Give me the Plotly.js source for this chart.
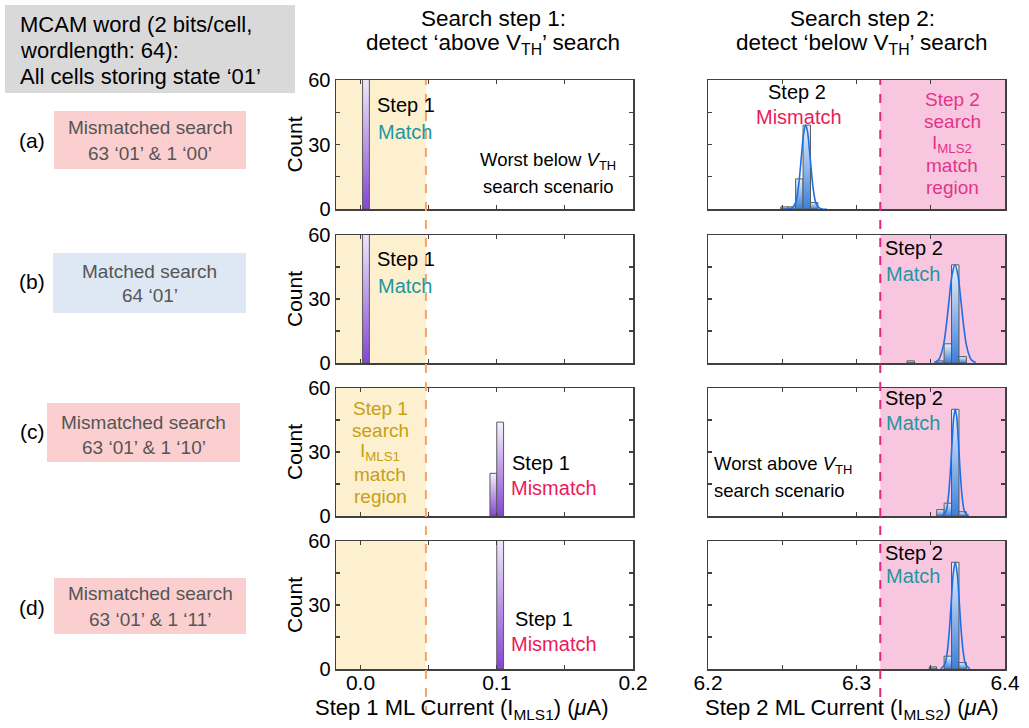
<!DOCTYPE html>
<html>
<head>
<meta charset="utf-8">
<script src="https://cdn.plot.ly/plotly-3.0.1.min.js"></script>
<style>html,body{margin:0;padding:0;background:#fff;}#chart{width:1029px;height:728px;}</style>
</head>
<body>
<div id="chart"></div>
<script>
// ---------------- DATA ----------------
const rowLabels = ['(a)', '(b)', '(c)', '(d)'];
const searchLine1 = ['Mismatched search', 'Matched search', 'Mismatched search', 'Mismatched search'];
const searchLine2 = ['63 ‘01’ & 1 ‘00’', '64 ‘01’', '63 ‘01’ & 1 ‘10’', '63 ‘01’ & 1 ‘11’'];

const step1BinWidth = 0.005;
const step2BinWidth = 0.005;
const step1Threshold = 0.048;
const step2Threshold = 6.316;

// Step 1 histograms (bin centers, counts)
const s1_a_x = [0.004];           const s1_a_n = [64];
const s1_b_x = [0.004];           const s1_b_n = [64];
const s1_c_x = [0.0975, 0.1025];  const s1_c_n = [20, 44];
const s1_d_x = [0.1025];          const s1_d_n = [64];

// Step 2 histograms (bin centers, counts)
const s2_a_x = [6.2515, 6.2565, 6.2615, 6.2665, 6.2715]; const s2_a_n = [1, 1, 14, 39, 3];
const s2_b_x = [6.3365, 6.3565, 6.3615, 6.3665, 6.3715]; const s2_b_n = [1, 1, 9, 46, 3];
const s2_c_x = [6.3565, 6.3615, 6.3665, 6.3715];         const s2_c_n = [3, 6, 50, 2];
const s2_d_x = [6.3515, 6.3615, 6.3665, 6.3715];         const s2_d_n = [1, 6, 50, 3];

// Step 2 fitted curves
const fit_a_x = [6.252, 6.256, 6.259, 6.261, 6.263, 6.2645, 6.2658, 6.267, 6.2685, 6.271, 6.273, 6.276, 6.280];
const fit_a_y = [0, 0.2, 3, 10.8, 25.2, 35.5, 39, 36, 26, 8.7, 2.2, 0.1, 0];
const fit_b_x = [6.3523, 6.3553, 6.3583, 6.3603, 6.3623, 6.3643, 6.3663, 6.3683, 6.3703, 6.3723, 6.3743, 6.3773, 6.3803];
const fit_b_y = [0.2, 1.5, 7.5, 16.6, 29.2, 41.1, 46, 41.1, 29.2, 16.6, 7.5, 1.5, 0.2];
const fit_c_x = [6.3575, 6.3600, 6.3615, 6.3630, 6.3645, 6.3655, 6.3665, 6.3675, 6.3685, 6.3700, 6.3715, 6.3730, 6.3755];
const fit_c_y = [0.1, 1.7, 6.8, 18.8, 36.3, 46.2, 50, 46.2, 36.3, 18.8, 6.8, 1.7, 0.1];
const fit_d_x = [6.3567, 6.3595, 6.3609, 6.3623, 6.3637, 6.3651, 6.3665, 6.3679, 6.3693, 6.3707, 6.3721, 6.3735, 6.3763];
const fit_d_y = [0.1, 2.2, 6.8, 16.2, 30.3, 44.1, 50, 44.1, 30.3, 16.2, 6.8, 2.2, 0.1];

// tick spacing (labels / minor marks)
const step1TickStep = 0.1, step1MinorStep = 0.05;
const step2TickStep = 0.1, step2MinorStep = 0.05;
const countTickStep = 30, countMinorStep = 15;

// ---------------- STYLE / LAYOUT ----------------
const W = 1029, H = 728;
const F = 'Liberation Sans, Arial, Helvetica, sans-serif';
const px = v => v / W;
const py = v => 1 - v / H;

const colX = [[336, 633], [708, 1005]];
const rowY = [[80, 209], [235, 363], [388, 516], [541, 669]];
const step1Range = [-0.018, 0.2];
const step2Range = [6.2, 6.4];

const TEAL = '#23969f', RED = '#ec1a5b', GOLD = '#c89f14', PINK = '#e3348a';

const step1Data = [[s1_a_x, s1_a_n], [s1_b_x, s1_b_n], [s1_c_x, s1_c_n], [s1_d_x, s1_d_n]];
const step2Data = [[s2_a_x, s2_a_n], [s2_b_x, s2_b_n], [s2_c_x, s2_c_n], [s2_d_x, s2_d_n]];
const fitData = [[fit_a_x, fit_a_y], [fit_b_x, fit_b_y], [fit_c_x, fit_c_y], [fit_d_x, fit_d_y]];

function axId(r, c) { const n = r * 2 + c + 1; return n === 1 ? '' : String(n); }

function barTraces(centers, counts, width, xa, ya, dark, light) {
  return centers.map((c, i) => ({
    type: 'scatter', mode: 'lines', xaxis: xa, yaxis: ya,
    x: [c - width / 2, c - width / 2, c + width / 2, c + width / 2, c - width / 2],
    y: [0, counts[i], counts[i], 0, 0],
    fill: 'toself',
    fillcolor: dark,
    fillgradient: { type: 'vertical', colorscale: [[0, dark], [1, light]] },
    line: { color: '#5a5a5a', width: 1 },
    showlegend: false, hoverinfo: 'skip'
  }));
}

const traces = [];
const layout = {
  width: W, height: H,
  margin: { l: 0, r: 0, t: 0, b: 0 },
  paper_bgcolor: '#ffffff', plot_bgcolor: '#ffffff',
  showlegend: false, hovermode: false,
  font: { family: F, size: 20, color: '#000' },
  shapes: [], annotations: []
};

for (let r = 0; r < 4; r++) {
  for (let c = 0; c < 2; c++) {
    const id = axId(r, c);
    const xa = 'x' + id, ya = 'y' + id;
    const common = {
      showline: true, mirror: 'allticks', linecolor: '#404040', linewidth: 1.5,
      ticks: 'inside', ticklen: 4, tickwidth: 1.2, tickcolor: '#404040',
      showgrid: false, zeroline: false, fixedrange: true
    };
    layout['xaxis' + id] = Object.assign({}, common, {
      domain: [px(colX[c][0]), px(colX[c][1])],
      range: c === 0 ? step1Range : step2Range,
      anchor: ya,
      tickmode: 'linear',
      tick0: c === 0 ? 0 : 6.2,
      dtick: c === 0 ? step1TickStep : step2TickStep,
      tickformat: '.1f',
      minor: { dtick: c === 0 ? step1MinorStep : step2MinorStep, tick0: c === 0 ? 0 : 6.2,
        ticks: 'inside', ticklen: 4, tickwidth: 1.2, tickcolor: '#404040', showgrid: false },
      showticklabels: r === 3,
      ticklabelstandoff: -6,
      tickfont: { size: 21, family: F, color: '#000' }
    });
    layout['yaxis' + id] = Object.assign({}, common, {
      domain: [py(rowY[r][1]), py(rowY[r][0])],
      range: [0, 60],
      anchor: xa,
      tickmode: 'linear', tick0: 0, dtick: countTickStep,
      minor: { dtick: countMinorStep, tick0: 0, ticks: 'inside', ticklen: 4, tickwidth: 1.2, tickcolor: '#404040', showgrid: false },
      showticklabels: c === 0,
      tickfont: { size: 20, family: F, color: '#000' }
    });
    // shaded regions
    if (c === 0) {
      layout.shapes.push({ type: 'rect', xref: xa, yref: ya, x0: -0.05, x1: step1Threshold, y0: 0, y1: 60,
        fillcolor: '#fdf0cf', line: { width: 0 }, layer: 'below' });
      const d = step1Data[r];
      traces.push(...barTraces(d[0], d[1], step1BinWidth, xa, ya, '#8446d2', '#f6f2fb'));
    } else {
      layout.shapes.push({ type: 'rect', xref: xa, yref: ya, x0: step2Threshold, x1: 6.45, y0: 0, y1: 60,
        fillcolor: '#f8c6df', line: { width: 0 }, layer: 'below' });
      const d = step2Data[r];
      traces.push(...barTraces(d[0], d[1], step2BinWidth, xa, ya, '#3a80dc', '#eaf1fb'));
      const f = fitData[r];
      traces.push({ type: 'scatter', mode: 'lines', xaxis: xa, yaxis: ya, x: f[0], y: f[1],
        line: { color: '#1f6fe3', width: 1.6, shape: 'spline', smoothing: 1 }, showlegend: false, hoverinfo: 'skip' });
    }
  }
}

// threshold dashed lines
layout.shapes.push({ type: 'line', xref: 'x', yref: 'paper', x0: step1Threshold, x1: step1Threshold,
  y0: py(715), y1: py(80), line: { color: '#f4a46c', width: 2, dash: 'dash' }, layer: 'above' });
layout.shapes.push({ type: 'line', xref: 'x2', yref: 'paper', x0: step2Threshold, x1: step2Threshold,
  y0: py(715), y1: py(80), line: { color: '#e0287e', width: 2, dash: 'dash' }, layer: 'above' });

// left boxes
function paperRect(x0, y0, x1, y1, color) {
  layout.shapes.push({ type: 'rect', xref: 'paper', yref: 'paper', x0: px(x0), x1: px(x1), y0: py(y1), y1: py(y0),
    fillcolor: color, line: { width: 0 }, layer: 'below' });
}
paperRect(5, 5, 295, 93, '#d9d9d9');
const boxRects = [[54, 111, 246, 169], [53, 253, 246, 313], [47, 403, 240, 462], [54, 578, 246, 634]];
const boxColors = ['#fbcfcf', '#dde8f4', '#fbcfcf', '#fbcfcf'];
boxRects.forEach((b, i) => paperRect(b[0], b[1], b[2], b[3], boxColors[i]));

function ann(text, x, y, o) {
  o = o || {};
  layout.annotations.push({
    text: text, x: px(x), y: py(y), xref: 'paper', yref: 'paper', showarrow: false,
    xanchor: o.xa || 'center', yanchor: 'middle', textangle: o.angle || 0,
    font: { family: F, size: o.size || 20, color: o.color || '#000' }
  });
}

// top-left text
ann('MCAM word (2 bits/cell,', 18, 25, { xa: 'left', size: 22 });
ann('wordlength: 64):', 18, 51, { xa: 'left', size: 22 });
ann('All cells storing state ‘01’', 18, 77, { xa: 'left', size: 22 });

// row labels and search boxes
const labelY = [140, 282, 431, 607];
const boxTextY = [[127, 153], [271, 295], [422, 447], [593, 619]];
for (let r = 0; r < 4; r++) {
  ann(rowLabels[r], 32, labelY[r], { size: 21 });
  const cx = (boxRects[r][0] + boxRects[r][2]) / 2;
  ann(searchLine1[r], cx, boxTextY[r][0], { size: 19, color: '#555555' });
  ann(searchLine2[r], cx, boxTextY[r][1], { size: 19, color: '#555555' });
  ann('Count', 294, (rowY[r][0] + rowY[r][1]) / 2, { angle: -90, size: 21 });
}

// column titles
ann('Search step 1:', 493, 18, { size: 22.5 });
ann('detect ‘above V<sub>TH</sub>’ search', 493, 44, { size: 22.5 });
ann('Search step 2:', 862, 18, { size: 22.5 });
ann('detect ‘below V<sub>TH</sub>’ search', 862, 44, { size: 22.5 });

// x axis titles
ann('Step 1 ML Current (I<sub>MLS1</sub>) (<i>μ</i>A)', 462, 709, { size: 22 });
ann('Step 2 ML Current (I<sub>MLS2</sub>) (<i>μ</i>A)', 852, 709, { size: 22 });

// step 1 panel texts
ann('Step 1', 375, 105, { xa: 'left' });
ann('Match', 376, 132, { xa: 'left', color: TEAL });
ann('Worst below <i>V</i><sub>TH</sub>', 548, 161, { size: 18.5 });
ann('search scenario', 548, 186, { size: 18.5 });
ann('Step 1', 375, 259, { xa: 'left' });
ann('Match', 376, 286, { xa: 'left', color: TEAL });
ann('Step 1', 380, 408, { size: 19, color: GOLD });
ann('search', 380, 430, { size: 19, color: GOLD });
ann('I<sub>MLS1</sub>', 380, 452, { size: 19, color: GOLD });
ann('match', 380, 474, { size: 19, color: GOLD });
ann('region', 380, 496, { size: 19, color: GOLD });
ann('Step 1', 510, 463, { xa: 'left' });
ann('Mismatch', 509, 488, { xa: 'left', color: RED });
ann('Step 1', 513, 619, { xa: 'left' });
ann('Mismatch', 509, 644, { xa: 'left', color: RED });

// step 2 panel texts
ann('Step 2', 797, 92);
ann('Mismatch', 799, 117, { color: RED });
ann('Step 2', 952, 100, { size: 19, color: PINK });
ann('search', 952, 122, { size: 19, color: PINK });
ann('I<sub>MLS2</sub>', 952, 144, { size: 19, color: PINK });
ann('match', 952, 166, { size: 19, color: PINK });
ann('region', 952, 188, { size: 19, color: PINK });
ann('Step 2', 883, 248, { xa: 'left' });
ann('Match', 884, 274, { xa: 'left', color: TEAL });
ann('Step 2', 883, 398, { xa: 'left' });
ann('Match', 884, 423, { xa: 'left', color: TEAL });
ann('Worst above <i>V</i><sub>TH</sub>', 712, 465, { xa: 'left', size: 18.5 });
ann('search scenario', 712, 490, { xa: 'left', size: 18.5 });
ann('Step 2', 883, 553, { xa: 'left' });
ann('Match', 884, 576, { xa: 'left', color: TEAL });

Plotly.newPlot('chart', traces, layout, { staticPlot: true, displayModeBar: false });
</script>
</body>
</html>
